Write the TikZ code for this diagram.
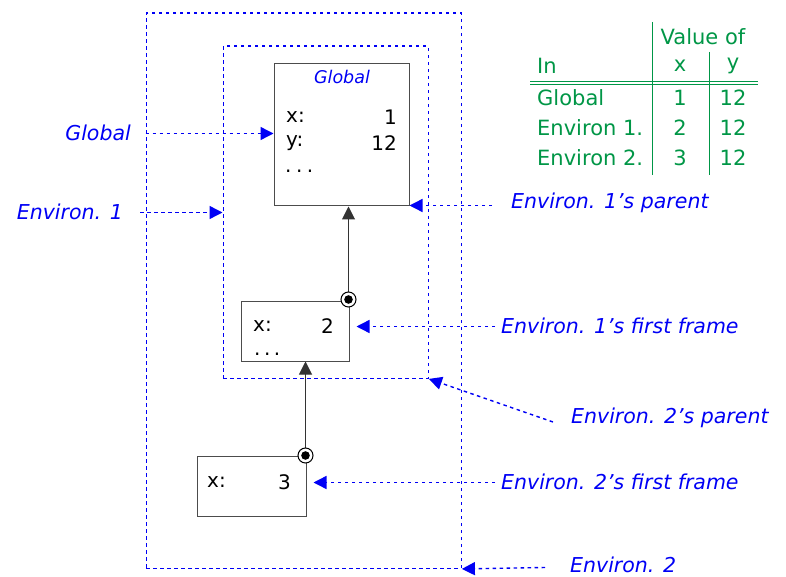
\documentclass[tikz,border=0pt]{standalone}
\usepackage{fontspec}
\setmainfont{DejaVu Sans}
\usetikzlibrary{arrows.meta}
\definecolor{tblgreen}{RGB}{0,150,70}
\definecolor{lblue}{RGB}{0,0,245}
\tikzset{
  frame/.style={draw=black!70, line width=1pt, inner sep=0pt, anchor=north west},
  envbox/.style={draw=lblue, line width=1.4pt, dash pattern=on 3.5pt off 3.5pt, inner sep=0pt, anchor=north west},
  ptr/.style={draw=lblue, line width=1.4pt, dash pattern=on 3.5pt off 3.5pt, -{Triangle[length=13pt,width=13pt]}},
  lbl/.style={text=lblue, font=\fontsize{20.5}{22}\selectfont\itshape, inner sep=0pt},
  txt/.style={font=\fontsize{20}{22}\selectfont, inner sep=0pt},
  tb/.style={text=tblgreen, font=\fontsize{21}{22}\selectfont, inner sep=0pt},
  link/.style={draw=black!80, line width=1pt, -{Triangle[length=13pt,width=13pt]}},
}
\begin{document}
\begin{tikzpicture}[x=1pt,y=-1pt]
\useasboundingbox (0,0) rectangle (786,577);
% environment boxes
\node[envbox, minimum width=315pt, minimum height=555pt] (env2) at (145.5,12.5) {};
\node[envbox, minimum width=205pt, minimum height=332pt] (env1) at (222.5,45.5) {};
% frames
\node[frame, minimum width=135pt, minimum height=142pt] (glob) at (273.5,63.5) {};
\node[frame, minimum width=108pt, minimum height=60pt] (fr1) at (240.5,300.5) {};
\node[frame, minimum width=109pt, minimum height=60pt] (fr2) at (196.5,455.5) {};
% frame contents
\node[text=lblue, font=\fontsize{17.5}{18}\selectfont\itshape, inner sep=0pt] (gt) at (342,77) {Global};
\node[txt, anchor=west] (gx) at (286,117) {x:};
\node[txt, anchor=east] (gx1) at (397,117) {1};
\node[txt, anchor=west] (gy) at (286,143) {y:};
\node[txt, anchor=east] (gy1) at (397,143) {12};
\node[txt, anchor=base west] (gd) at (285,173) {.\kern4.5pt.\kern4.5pt.};
\node[txt, anchor=west] (f1x) at (253,326) {x:};
\node[txt, anchor=east] (f1v) at (334,326) {2};
\node[txt, anchor=base west] (f1d) at (254,355) {.\kern3.5pt.\kern3.5pt.};
\node[txt, anchor=west] (f2x) at (207,482) {x:};
\node[txt, anchor=east] (f2v) at (291,482) {3};
% parent links
\coordinate (c1) at (348.5,299.5);
\coordinate (c2) at (305.5,455.5);
\draw[link] (c1) -- (glob.south -| c1);
\draw[link] (c2) -- (fr1.south -| c2);
\foreach \c in {c1,c2}{
  \fill[white] (\c) circle (7.5pt);
  \draw[black, line width=1pt] (\c) circle (7.5pt);
  \fill[black] (\c) circle (4.3pt);
}
% labels and pointers
\node[lbl, anchor=east] (lglob) at (131,133) {Global};
\coordinate (sglob) at (145.5,133.5);
\draw[ptr] (sglob) -- (glob.west |- sglob);
\node[lbl, anchor=east] (lenv1) at (123,212) {Environ. 1};
\coordinate (senv1) at (140,212.5);
\draw[ptr] (senv1) -- (env1.west |- senv1);
\node[lbl, anchor=west] (lp1) at (511,203) {Environ. 1's parent};
\coordinate (sp1) at (492,205.5);
\draw[ptr] (sp1) -- (glob.east |- sp1);
\node[lbl, anchor=west] (lff1) at (501,326) {Environ. 1's first frame};
\coordinate (sff1) at (495,326.5);
\draw[ptr] (sff1) -- ([xshift=7pt]fr1.east |- sff1);
\node[lbl, anchor=west] (lp2) at (571,418) {Environ. 2's parent};
\coordinate (sp2) at (553,422);
\draw[ptr] (sp2) -- (env1.south east);
\node[lbl, anchor=west] (lff2) at (501,482) {Environ. 2's first frame};
\coordinate (sff2) at (495,482.5);
\draw[ptr] (sff2) -- ([xshift=7pt]fr2.east |- sff2);
\node[lbl, anchor=west] (lenv2) at (570,565) {Environ. 2};
\coordinate (senv2) at (545,567.5);
\draw[ptr] (senv2) -- (env2.south east);
% table
\draw[tblgreen, line width=1pt] (652.5,22) -- (652.5,175);
\draw[tblgreen, line width=1pt] (709.5,52) -- (709.5,175);
\draw[tblgreen, line width=1pt] (530,81.5) -- (758,81.5);
\draw[tblgreen, line width=1pt] (530,84.5) -- (758,84.5);
\node[tb] (hv) at (703,37) {Value of};
\node[tb, anchor=west] (hin) at (537,66) {In};
\node[tb] (hx) at (680,66) {x};
\node[tb] (hy) at (733,66) {y};
\node[tb, anchor=west] (r1) at (537,98) {Global};
\node[tb] (r1x) at (680,98) {1};
\node[tb] (r1y) at (733,98) {12};
\node[tb, anchor=west] (r2) at (537,128) {Environ 1.};
\node[tb] (r2x) at (680,128) {2};
\node[tb] (r2y) at (733,128) {12};
\node[tb, anchor=west] (r3) at (537,158) {Environ 2.};
\node[tb] (r3x) at (680,158) {3};
\node[tb] (r3y) at (733,158) {12};
\end{tikzpicture}
\end{document}
